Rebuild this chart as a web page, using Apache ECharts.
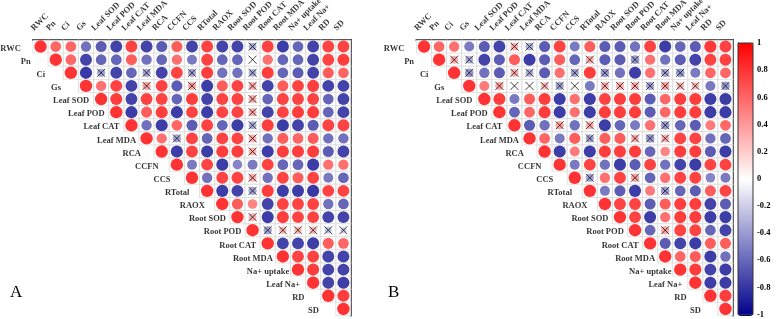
<!DOCTYPE html>
<html>
<head>
<meta charset="utf-8">
<script src="https://cdn.jsdelivr.net/npm/echarts@6/dist/echarts.min.js"></script>
<style>html,body{margin:0;padding:0;background:#fff}#c{width:777px;height:319px}</style>
</head>
<body>
<div id="c"></div>
<script>
const vars = ['RWC','Pn','Ci','Gs','Leaf SOD','Leaf POD','Leaf CAT','Leaf MDA','RCA','CCFN','CCS','RTotal','RAOX','Root SOD','Root POD','Root CAT','Root MDA','Na+ uptake','Leaf Na+','RD','SD'];

// Panel A: upper triangle, each row starts at the diagonal
const corrA = [
  [1, 0.75, 0.75, -0.7, -0.8, -0.92, 0.92, -0.92, -0.8, 0.8, -0.92, 0.92, -0.92, -0.92, -0.4, 0.92, -0.95, -0.75, -0.92, 0.92, 0.92],
  [1, 0.75, -0.92, -0.75, -0.75, 0.8, -0.7, -0.75, 0.7, -0.65, 0.92, -0.75, -0.75, 0.05, 0.7, -0.75, -0.75, -0.92, 0.92, 0.95],
  [1, -0.97, -0.45, -0.92, -0.75, -0.45, -0.92, 0.92, -0.45, 0.95, -0.7, -0.7, -0.4, 0.95, -0.75, -0.8, -0.92, 0.8, 0.75],
  [1, 0.7, 0.92, -0.92, 0.45, 0.92, -0.8, 0.45, -0.95, 0.8, 0.92, 0.4, -0.92, 0.8, 0.92, 0.95, -0.92, -0.92],
  [1, 0.95, -0.92, 0.92, 0.92, -0.75, 0.95, -0.92, 0.92, 0.92, 0.4, -0.75, 0.92, 0.92, 0.92, -0.75, -0.92],
  [1, -0.95, 0.8, 0.95, -0.95, 0.92, -0.95, 0.92, 0.92, 0.4, -0.92, 0.92, 0.95, 0.95, -0.75, -0.92],
  [1, -0.7, -0.95, 0.75, -0.8, 0.92, -0.75, -0.95, -0.4, 0.95, -0.95, -0.92, -0.8, 0.92, 0.92],
  [1, 0.7, -0.45, 0.92, -0.75, 0.92, 0.92, 0.4, -0.7, 0.8, 0.75, 0.8, -0.7, -0.7],
  [1, -0.95, 0.92, -0.95, 0.95, 0.95, 0.4, -0.95, 0.95, 0.95, 0.95, -0.8, -0.92],
  [1, -0.65, 0.92, -0.95, -0.6, -0.65, 0.92, -0.75, -0.75, -0.95, 0.7, 0.7],
  [1, -0.7, 0.92, 0.92, 0.4, -0.7, 0.92, 0.8, 0.92, -0.65, -0.75],
  [1, -0.95, -0.92, -0.45, 0.95, -0.95, -0.95, -0.97, 0.92, 0.92],
  [1, 0.8, 0.6, -0.92, 0.92, 0.92, 0.92, -0.7, -0.75],
  [1, 0.4, -0.95, 0.95, 0.92, 0.92, -0.92, -0.92],
  [1, -0.45, 0.35, 0.35, 0.35, -0.3, -0.25],
  [1, -0.92, -0.92, -0.95, 0.8, 0.75],
  [1, 0.92, 0.92, -0.92, -0.92],
  [1, 0.95, -0.92, -0.92],
  [1, -0.92, -0.95],
  [1, 0.95],
  [1]
];
// Panel A: non-significant cells [row, col]
const nsA = [[0,14],[1,14],[2,4],[2,7],[2,10],[2,14],[3,7],[3,10],[3,14],[4,14],[5,14],[6,14],[7,9],[7,14],[8,14],[10,14],[11,14],[13,14],[14,15],[14,16],[14,17],[14,18],[14,19],[14,20]];

// Panel B
const corrB = [
  [1, 0.75, 0.7, -0.65, -0.8, -0.92, 0.4, -0.4, -0.8, 0.92, -0.65, 0.8, -0.8, -0.8, -0.7, 0.92, -0.95, -0.75, -0.8, 0.97, 0.92],
  [1, 0.4, -0.4, -0.92, -0.8, 0.8, -0.95, -0.8, 0.8, -0.75, 0.4, -0.8, -0.8, -0.5, 0.7, -0.7, -0.8, -0.92, 0.92, 0.92],
  [1, -0.5, -0.7, -0.8, 0.4, -0.4, -0.8, 0.7, -0.45, 0.95, -0.5, -0.7, -0.95, 0.7, -0.45, -0.5, -0.65, 0.75, 0.75],
  [1, 0.65, 0.45, 0.05, 0.05, 0.35, -0.45, 0.05, -0.65, 0.4, 0.4, 0.4, -0.45, 0.45, 0.35, 0.35, -0.65, -0.5],
  [1, 0.95, -0.65, 0.8, 0.95, -0.95, 0.7, -0.95, 0.92, 0.95, 0.95, -0.8, 0.75, 0.95, 0.95, -0.95, -0.95],
  [1, -0.75, 0.75, 0.95, -0.95, 0.7, -0.95, 0.95, 0.95, 0.95, -0.8, 0.75, 0.95, 0.95, -0.95, -0.95],
  [1, -0.8, -0.7, 0.45, -0.7, 0.4, -0.95, -0.75, -0.65, 0.7, -0.5, -0.75, -0.8, 0.65, 0.75],
  [1, 0.75, -0.65, 0.8, -0.45, 0.8, 0.8, 0.4, -0.5, 0.4, 0.92, 0.92, -0.7, -0.75],
  [1, -0.95, 0.65, -0.95, 0.95, 0.95, 0.95, -0.75, 0.6, 0.95, 0.95, -0.8, -0.95],
  [1, -0.65, 0.92, -0.7, -0.95, -0.8, 0.92, -0.7, -0.92, -0.95, 0.92, 0.92],
  [1, -0.45, 0.7, 0.92, 0.45, -0.75, 0.7, 0.92, 0.92, -0.6, -0.65],
  [1, -0.65, -0.8, -0.95, 0.65, -0.5, -0.75, -0.8, 0.8, 0.92],
  [1, 0.92, 0.92, -0.8, 0.8, 0.95, 0.95, -0.92, -0.8],
  [1, 0.92, -0.95, 0.7, 0.95, 0.95, -0.95, -0.95],
  [1, -0.75, 0.45, 0.92, 0.92, -0.75, -0.92],
  [1, -0.8, -0.92, -0.95, 0.8, 0.8],
  [1, 0.75, 0.8, -0.95, -0.7],
  [1, 0.95, -0.92, -0.95],
  [1, -0.95, -0.95],
  [1, 0.95],
  [1]
];
const nsB = [[0,6],[0,7],[1,2],[1,3],[1,11],[1,14],[2,3],[2,6],[2,7],[2,10],[2,12],[2,16],[2,17],[3,5],[3,6],[3,7],[3,8],[3,9],[3,10],[3,12],[3,13],[3,14],[3,15],[3,16],[3,17],[3,18],[3,20],[6,9],[6,11],[6,16],[7,11],[7,14],[7,15],[7,16],[10,11],[10,14],[11,16],[14,16]];

const panelLetters = ['A', 'B'];
const colorbarMin = -1, colorbarMax = 1, colorbarStep = 0.2;

const FONT = 'Liberation Serif';
const grids = [
  {left: 33, top: 40, width: 318, height: 275.5},
  {left: 416.5, top: 40, width: 316.5, height: 275.5}
];

function cellsOf(corr) {
  const out = [];
  corr.forEach((row, r) => row.forEach((v, k) => out.push([r + k, r, v])));
  return out;
}
function crossesOf(ns) { return ns.map(p => [p[1], p[0]]); }

const xAxes = [], yAxes = [], series = [];
[corrA, corrB].forEach((corr, i) => {
  const g = grids[i];
  const cw = g.width / vars.length, ch = g.height / vars.length;
  xAxes.push({
    type: 'category', gridIndex: i, data: vars, position: 'top',
    axisLine: {show: true, lineStyle: {color: '#000', width: 2}},
    axisTick: {show: false}, axisLabel: {show: false}, splitLine: {show: false}
  });
  yAxes.push({
    type: 'category', gridIndex: i, data: vars, inverse: true, position: 'right',
    axisLine: {show: true, lineStyle: {color: '#000', width: 2}},
    axisTick: {show: false}, axisLabel: {show: false}, splitLine: {show: false}
  });
  const cells = cellsOf(corr);
  series.push({
    type: 'scatter', xAxisIndex: i, yAxisIndex: i, silent: true, z: 1,
    symbol: 'rect', symbolSize: [cw, ch],
    itemStyle: {color: '#fff', borderColor: '#dcdcdc', borderWidth: 1},
    data: cells.map(d => [d[0], d[1]])
  });
  series.push({
    type: 'scatter', xAxisIndex: i, yAxisIndex: i, silent: true, z: 2,
    symbol: 'circle',
    symbolSize: v => 12.4 * Math.sqrt(Math.abs(v[2])),
    data: cells
  });
  series.push({
    type: 'scatter', xAxisIndex: i, yAxisIndex: i, silent: true, z: 3,
    symbol: 'path://M0,0L10,10M10,0L0,10', symbolSize: 8,
    itemStyle: {color: 'rgba(0,0,0,0)', borderColor: '#111', borderWidth: 1},
    data: crossesOf(i === 0 ? nsA : nsB)
  });
  // row labels, left of the diagonal
  series.push({
    type: 'scatter', xAxisIndex: i, yAxisIndex: i, silent: true, z: 4, clip: false,
    symbolSize: 1, itemStyle: {color: 'rgba(0,0,0,0)'},
    label: {show: true, position: 'inside', offset: [-30, 2], align: 'center', verticalAlign: 'middle',
      formatter: p => vars[p.data[1]], fontFamily: FONT, fontWeight: 'bold', fontSize: 8.5, color: '#000'},
    data: vars.map((n, r) => [r, r])
  });
  // column labels, rotated above the top row
  series.push({
    type: 'scatter', xAxisIndex: i, yAxisIndex: i, silent: true, z: 4, clip: false,
    symbolSize: 1, itemStyle: {color: 'rgba(0,0,0,0)'},
    label: {show: true, position: 'inside', offset: [6.4, -13.4], rotate: 45, align: 'left', verticalAlign: 'bottom',
      formatter: p => vars[p.data[0]], fontFamily: FONT, fontWeight: 'bold', fontSize: 8.5, color: '#000'},
    data: vars.map((n, c) => [c, 0])
  });
});

// colorbar axis
const cbGrid = {left: 738, top: 43, width: 15, height: 273, show: true, borderColor: '#333', borderWidth: 1, backgroundColor: 'rgba(0,0,0,0)', z: 10};
xAxes.push({type: 'value', gridIndex: 2, show: false, min: 0, max: 1});
yAxes.push({
  type: 'value', gridIndex: 2, min: colorbarMin, max: colorbarMax, interval: colorbarStep, position: 'right',
  axisLine: {show: true, lineStyle: {color: '#333', width: 1}},
  axisTick: {show: true, inside: false, length: 4, lineStyle: {color: '#333'}},
  axisLabel: {margin: 4, fontFamily: FONT, fontWeight: 'bold', fontSize: 8.5, color: '#000'},
  splitLine: {show: false}
});

const option = {
  animation: false,
  backgroundColor: '#fff',
  title: panelLetters.map((t, i) => ({
    text: t, left: i === 0 ? 10 : 388, top: 284, padding: 0,
    textStyle: {fontFamily: FONT, fontWeight: 'normal', fontSize: 17, color: '#000'}
  })),
  grid: [grids[0], grids[1], cbGrid],
  xAxis: xAxes,
  yAxis: yAxes,
  visualMap: {
    type: 'continuous', min: colorbarMin, max: colorbarMax, dimension: 2,
    seriesIndex: [1, 6], calculable: false, hoverLink: false,
    orient: 'vertical', left: 738, top: 43, itemWidth: 15, itemHeight: 273, padding: 0,
    text: null, showLabel: false,
    inRange: {color: ['#00008B', '#ffffff', '#ff0000']}
  },
  series: series
};
const chart = echarts.init(document.getElementById('c'), null, {renderer: 'canvas'});
chart.setOption(option);
</script>
</body>
</html>
